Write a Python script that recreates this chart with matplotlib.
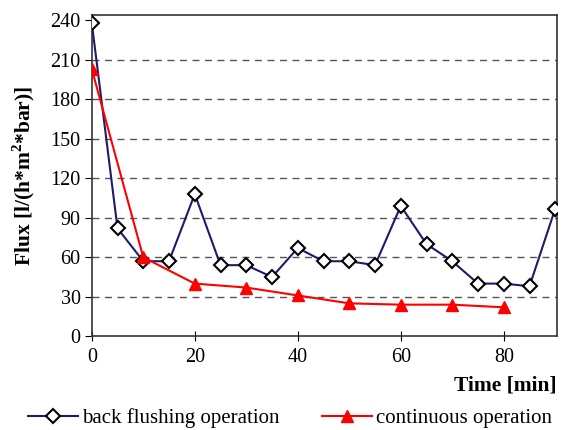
import numpy as np
import matplotlib
matplotlib.use("Agg")
import matplotlib.pyplot as plt

plt.rcParams['font.family'] = ['Liberation Serif', 'DejaVu Serif']
plt.rcParams['mathtext.fontset'] = 'custom'
plt.rcParams['mathtext.rm'] = 'Liberation Serif'
plt.rcParams['mathtext.bf'] = 'Liberation Serif:bold'

# back flushing operation
time_bf = [0, 5, 10, 15, 20, 25, 30, 35, 40, 45, 50, 55, 60, 65, 70, 75, 80, 85, 90]
flux_bf = [238, 82, 57, 57, 108, 54, 54, 45, 67, 57, 57, 54, 99, 70, 57, 40, 40, 38, 97]

# continuous operation
time_co = [0, 10, 20, 30, 40, 50, 60, 70, 80]
flux_co = [203, 60, 40, 37, 31, 25, 24, 24, 22]

fig = plt.figure(figsize=(5.63, 4.3), dpi=100)
ax = fig.add_axes([0.163, 0.218, 0.826, 0.747])

ax.plot(time_bf, flux_bf, color='#1c1c6b', lw=1.5, marker='D', ms=7,
        mfc='white', mec='black', mew=1.5, label='back flushing operation', zorder=3)
ax.plot(time_co, flux_co, color='#ff0000', lw=1.5, marker='^', ms=9,
        mfc='#ff0000', mec='#ff0000', label='continuous operation', zorder=4)

ax.set_xlim(0, 90.3)
ax.set_ylim(0, 244)
ax.set_yticks(np.arange(0, 241, 30))
ax.set_xticks([0, 20, 40, 60, 80])
for y in range(30, 240, 30):
    ax.axhline(y, color='#555555', ls=(0, (5, 4)), lw=1.0, zorder=1)

ax.tick_params(axis='y', direction='out', length=5, labelsize=14.5, pad=3)
ax.tick_params(axis='x', direction='inout', length=7, labelsize=14.5, pad=5)
for s in ax.spines.values():
    s.set_color('#333333')
    s.set_linewidth(1.2)

ax.set_ylabel(r'Flux [l/(h*m$^{\mathbf{2}}$*bar)]', fontsize=15.5, fontweight='bold', labelpad=10)
ax.set_xlabel('Time [min]', fontsize=15.5, fontweight='bold', loc='right', labelpad=6)

fig.legend(loc='lower center', bbox_to_anchor=(0.515, -0.04), ncol=2, frameon=False,
           fontsize=15, handlelength=2.4, columnspacing=2.0, handletextpad=0.2)

fig.savefig('out.png', dpi=100)
